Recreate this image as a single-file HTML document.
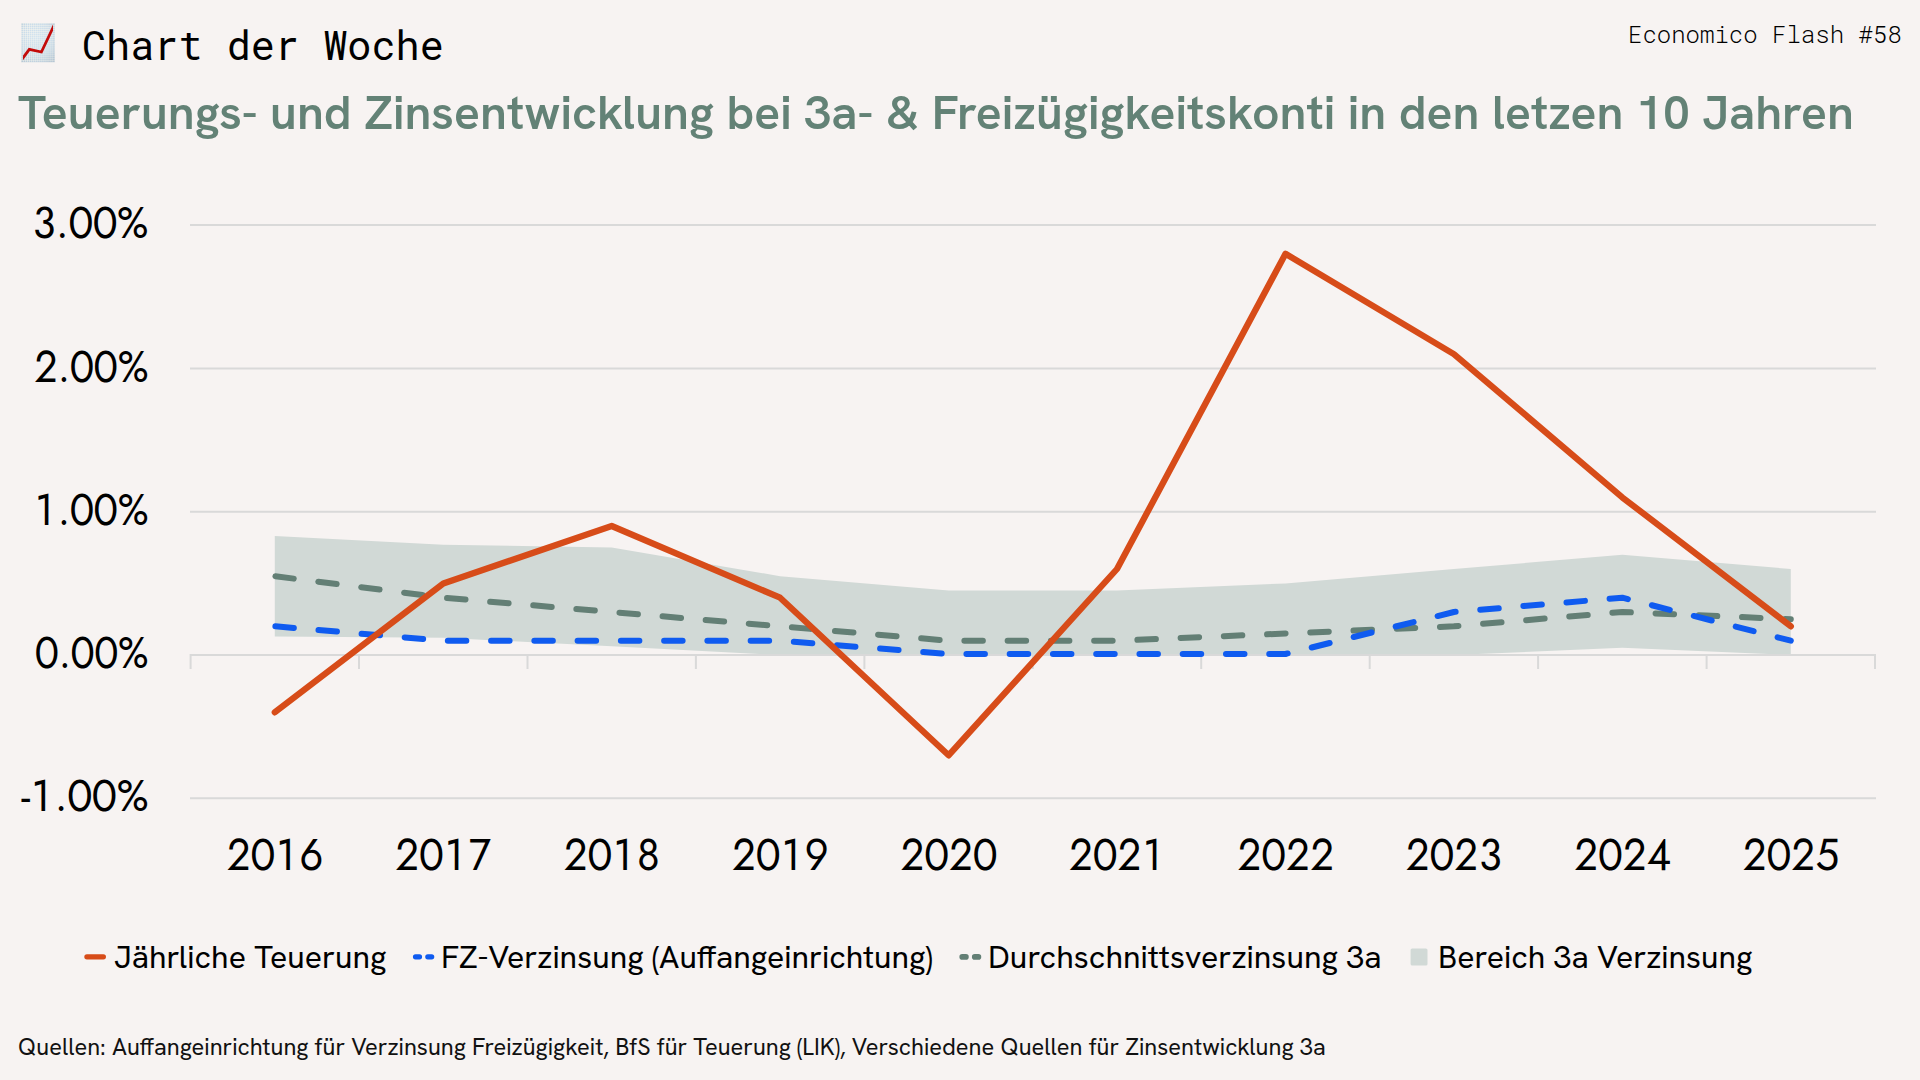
<!DOCTYPE html>
<html lang="de">
<head>
<meta charset="utf-8">
<title>Chart der Woche</title>
<style>
html,body{margin:0;padding:0;}
body{width:1920px;height:1080px;overflow:hidden;background:#f7f3f2;position:relative;}
svg{position:absolute;left:0;top:0;display:block;}
</style>
</head>
<body>
<svg width="1920" height="1080" viewBox="0 0 1920 1080">
  <!-- emoji chart icon -->
  <defs>
    <radialGradient id="eg" cx="0.45" cy="0.4" r="0.75">
      <stop offset="0" stop-color="#d2e4f2"/>
      <stop offset="0.6" stop-color="#c8dae9"/>
      <stop offset="1" stop-color="#b3c4d3"/>
    </radialGradient>
    <pattern id="egrid" x="21" y="23" width="2.05" height="2.05" patternUnits="userSpaceOnUse">
      <path d="M0 0.4H2.05M0.4 0V2.05" stroke="#fff9ef" stroke-opacity="0.6" stroke-width="0.55"/>
    </pattern>
    <clipPath id="eclip"><rect x="23" y="20" width="30.1" height="45"/></clipPath>
  </defs>
  <rect x="21.07" y="23" width="33.8" height="39.2" fill="url(#eg)"/>
  <rect x="21.07" y="23" width="33.8" height="39.2" fill="url(#egrid)"/>
  <polyline clip-path="url(#eclip)" points="21.2,60.3 29.3,49.4 41.4,52 54.1,25.3" fill="none" stroke="#c30b0b" stroke-width="2.8" stroke-linejoin="miter" stroke-miterlimit="10"/>

  <!-- band -->
  <polygon fill="#d1d9d6" points="274.8,536.1 443.3,544.7 611.7,547.5 780.1,576.2 948.6,590.5 1117.0,590.5 1285.5,583.4 1453.9,569.0 1622.3,554.7 1790.8,569.0 1790.8,655.0 1622.3,647.8 1453.9,655.0 1285.5,655.0 1117.0,655.0 948.6,655.0 780.1,655.0 611.7,646.2 443.3,637.8 274.8,636.4"/>

  <!-- gridlines -->
  <g stroke="#d9d9d9" stroke-width="2" fill="none">
    <line x1="190" y1="225.1" x2="1876" y2="225.1"/>
    <line x1="190" y1="368.4" x2="1876" y2="368.4"/>
    <line x1="190" y1="511.7" x2="1876" y2="511.7"/>
    <line x1="190" y1="798.3" x2="1876" y2="798.3"/>
    <path d="M190.6 669V655H1875V669M359 655V669M527.5 655V669M695.9 655V669M864.4 655V669M1032.8 655V669M1201.2 655V669M1369.7 655V669M1538.1 655V669M1706.6 655V669"/>
  </g>

  <!-- series -->
  <polyline fill="none" stroke="#637f75" stroke-width="6" stroke-linecap="round" stroke-linejoin="round" stroke-dasharray="18.5 24.76" stroke-dashoffset="-0.6" points="274.8,576.2 443.3,597.7 611.7,612.0 780.1,626.3 948.6,640.7 1117.0,640.7 1285.5,633.5 1453.9,626.3 1622.3,612.0 1790.8,619.2"/>
  <polyline fill="none" stroke="#0f5bf0" stroke-width="6" stroke-linecap="round" stroke-linejoin="round" stroke-dasharray="18.5 24.76" stroke-dashoffset="-0.6" points="274.8,626.3 443.3,640.7 611.7,640.7 780.1,640.7 948.6,654 1117.0,654 1285.5,654 1453.9,612.0 1622.3,597.7 1790.8,640.7"/>
  <polyline fill="none" stroke="#d74c19" stroke-width="6.3" stroke-linecap="round" stroke-linejoin="round" points="274.8,712.3 443.3,583.4 611.7,526.0 780.1,597.7 948.6,755.3 1117.0,569.0 1285.5,253.8 1453.9,354.1 1622.3,497.4 1790.8,626.3"/>

  <!-- y labels -->
  <g font-family="Jost, 'Liberation Sans', sans-serif" font-size="44.5" style="font-variant-numeric:tabular-nums" fill="#000" text-anchor="end">
    <text x="148.5" y="238.4" textLength="116.6" lengthAdjust="spacingAndGlyphs">3.00%</text>
    <text x="148.5" y="381.5" textLength="114.6" lengthAdjust="spacingAndGlyphs">2.00%</text>
    <text x="148.5" y="524.6" textLength="114.7" lengthAdjust="spacingAndGlyphs">1.00%</text>
    <text x="148.5" y="667.7" textLength="113.4" lengthAdjust="spacingAndGlyphs">0.00%</text>
    <text x="148.5" y="810.8" textLength="127.3" lengthAdjust="spacingAndGlyphs">-1.00%</text>
  </g>
  <!-- x labels -->
  <g font-family="Jost, 'Liberation Sans', sans-serif" font-size="44.5" style="font-variant-numeric:tabular-nums" fill="#000" text-anchor="middle">
    <text x="275.0" y="870.3" textLength="97" lengthAdjust="spacingAndGlyphs">2016</text>
    <text x="443.5" y="870.3" textLength="97" lengthAdjust="spacingAndGlyphs">2017</text>
    <text x="611.9" y="870.3" textLength="97" lengthAdjust="spacingAndGlyphs">2018</text>
    <text x="780.3" y="870.3" textLength="97" lengthAdjust="spacingAndGlyphs">2019</text>
    <text x="948.8" y="870.3" textLength="97" lengthAdjust="spacingAndGlyphs">2020</text>
    <text x="1117.2" y="870.3" textLength="97" lengthAdjust="spacingAndGlyphs">2021</text>
    <text x="1285.7" y="870.3" textLength="97" lengthAdjust="spacingAndGlyphs">2022</text>
    <text x="1454.1" y="870.3" textLength="97" lengthAdjust="spacingAndGlyphs">2023</text>
    <text x="1622.5" y="870.3" textLength="97" lengthAdjust="spacingAndGlyphs">2024</text>
    <text x="1791.0" y="870.3" textLength="97" lengthAdjust="spacingAndGlyphs">2025</text>
  </g>

  <!-- legend markers -->
  <line x1="86.9" y1="956.8" x2="103.4" y2="956.8" stroke="#d74c19" stroke-width="5.2" stroke-linecap="round"/>
  <line x1="415.5" y1="956.8" x2="431.7" y2="956.8" stroke="#0f5bf0" stroke-width="5.2" stroke-linecap="round" stroke-dasharray="4 8.3"/>
  <line x1="962.2" y1="956.9" x2="978.45" y2="956.9" stroke="#637f75" stroke-width="5.6" stroke-linecap="round" stroke-dasharray="3.75 8.75"/>
  <rect x="1410.6" y="948.4" width="16.9" height="17.1" rx="1.6" fill="#d1d9d6"/>

  <!-- header texts -->
  <text x="82" y="59.93" font-family="'Roboto Mono','Liberation Mono',monospace" font-size="40.2" fill="#000" textLength="361.75" lengthAdjust="spacingAndGlyphs">Chart der Woche</text>
  <text x="1628" y="43.15" font-family="'Roboto Mono','Liberation Mono',monospace" font-size="24" font-weight="300" fill="#000" textLength="273.66" lengthAdjust="spacingAndGlyphs">Economico Flash #58</text>
  <text x="18" y="129.4" font-family="'Hanken Grotesk','Liberation Sans',sans-serif" font-size="48.1" font-weight="600" fill="#638276" textLength="1835.88" lengthAdjust="spacingAndGlyphs">Teuerungs- und Zinsentwicklung bei 3a- &amp; Freizügigkeitskonti in den letzen 10 Jahren</text>

  <!-- legend texts -->
  <g font-family="'Hanken Grotesk','Liberation Sans',sans-serif" font-size="32" fill="#000">
    <text x="114" y="968" textLength="272.52" lengthAdjust="spacingAndGlyphs">Jährliche Teuerung</text>
    <text x="441" y="968" textLength="491.56" lengthAdjust="spacingAndGlyphs">FZ-Verzinsung (Auffangeinrichtung)</text>
    <text x="988" y="968" textLength="393.6" lengthAdjust="spacingAndGlyphs">Durchschnittsverzinsung 3a</text>
    <text x="1438" y="968" textLength="314.53" lengthAdjust="spacingAndGlyphs">Bereich 3a Verzinsung</text>
  </g>

  <!-- footer -->
  <text x="18" y="1054.62" font-family="'Hanken Grotesk','Liberation Sans',sans-serif" font-size="23.62" fill="#111" textLength="1307.64" lengthAdjust="spacingAndGlyphs">Quellen: Auffangeinrichtung für Verzinsung Freizügigkeit, BfS für Teuerung (LIK), Verschiedene Quellen für Zinsentwicklung 3a</text>
</svg>

</body>
</html>
